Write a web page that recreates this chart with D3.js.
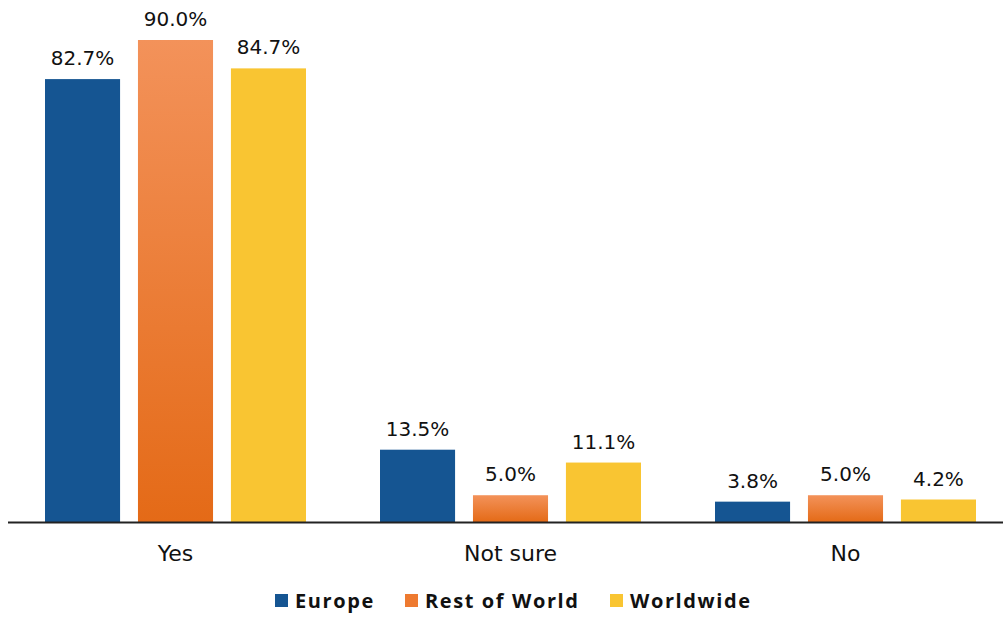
<!DOCTYPE html>
<html>
<head>
<meta charset="utf-8">
<script src="https://cdn.jsdelivr.net/npm/d3@7"></script>
<style>
  body { margin: 0; background: #fff; }
  svg text { font-family: "DejaVu Sans", "Open Sans", sans-serif; fill: #111; }
</style>
</head>
<body>
<div id="chart"></div>
<script>
// data
let categories = ["Yes", "Not sure", "No"]
let seriesNames = ["Europe", "Rest of World", "Worldwide"]
let europe = [82.7, 13.5, 3.8]
let restOfWorld = [90.0, 5.0, 5.0]
let worldwide = [84.7, 11.1, 4.2]

let width = 1003, height = 618
let baseline = 522

let svg = d3.select("#chart").append("svg")
    .attr("width", width)
    .attr("height", height)

// orange gets a top-to-bottom gradient on every bar
let defs = svg.append("defs")
let grad = defs.append("linearGradient")
    .attr("id", "orangeGrad")
    .attr("x1", 0).attr("y1", 0).attr("x2", 0).attr("y2", 1)
grad.append("stop").attr("offset", "0%").attr("stop-color", "#f3925a")
grad.append("stop").attr("offset", "100%").attr("stop-color", "#e46a17")

let fills = ["#155592", "url(#orangeGrad)", "#f9c532"]
let legendColors = ["#155592", "#ee7a30", "#f9c532"]

let x0 = d3.scaleBand()
    .domain(categories)
    .range([8, 1013])
    .paddingInner(0)
    .paddingOuter(0)

let x1 = d3.scaleBand()
    .domain(seriesNames)
    .range([0, 261])
    .paddingInner(0.1925)

let y = d3.scaleLinear()
    .domain([0, 90])
    .range([baseline, 40])

let rows = categories.map((c, i) => ({
    category: c,
    values: [europe[i], restOfWorld[i], worldwide[i]]
}))

let groups = svg.selectAll("g.group")
    .data(rows)
    .enter().append("g")
    .attr("class", "group")
    .attr("transform", d => `translate(${x0(d.category) + x0.bandwidth() / 2 - 130.5},0)`)

groups.selectAll("rect")
    .data(d => d.values.map((v, j) => ({ name: seriesNames[j], value: v, j: j })))
    .enter().append("rect")
    .attr("x", d => x1(d.name))
    .attr("width", x1.bandwidth())
    .attr("y", d => y(d.value))
    .attr("height", d => baseline - y(d.value))
    .attr("fill", d => fills[d.j])

groups.selectAll("text.val")
    .data(d => d.values.map((v, j) => ({ name: seriesNames[j], value: v })))
    .enter().append("text")
    .attr("class", "val")
    .attr("x", d => x1(d.name) + x1.bandwidth() / 2)
    .attr("y", d => y(d.value) - 14)
    .attr("text-anchor", "middle")
    .attr("font-size", 20)
    .text(d => d.value.toFixed(1) + "%")

// x axis
let xAxis = svg.append("g")
    .attr("transform", `translate(0,${baseline})`)
    .call(d3.axisBottom(x0).tickSize(0).tickPadding(23))
xAxis.select(".domain").remove()
xAxis.selectAll("text")
    .attr("font-size", 22)
    .style("font-family", "'DejaVu Sans', 'Open Sans', sans-serif")
    .attr("fill", "#111")

svg.append("line")
    .attr("x1", 8).attr("x2", 1003)
    .attr("y1", baseline + 0.5).attr("y2", baseline + 0.5)
    .attr("stroke", "#222")
    .attr("stroke-width", 2)

// legend
let legendX = [275, 405, 610]
let legend = svg.selectAll("g.legend")
    .data(seriesNames)
    .enter().append("g")
    .attr("class", "legend")
    .attr("transform", (d, i) => `translate(${legendX[i]},594)`)

legend.append("rect")
    .attr("width", 13).attr("height", 13)
    .attr("fill", (d, i) => legendColors[i])

legend.append("text")
    .attr("x", 20)
    .attr("y", 14)
    .attr("font-size", 20)
    .attr("font-weight", "bold")
    .style("font-family", "'Open Sans', sans-serif")
    .attr("letter-spacing", 1.6)
    .text(d => d)
</script>
</body>
</html>
